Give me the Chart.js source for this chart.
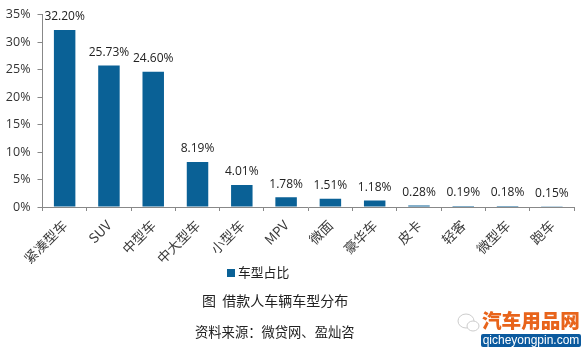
<!DOCTYPE html>
<html>
<head>
<meta charset="utf-8">
<script src="https://cdn.jsdelivr.net/npm/chart.js@4"></script>
<style>
  body { margin: 0; background: #fff; }
  #wrap { position: relative; width: 586px; height: 351px; overflow: hidden; font-family: "Noto Sans CJK SC", sans-serif; color: #222; }
  #line-chart { position: absolute; left: 0; top: 0; }
  .txt { position: absolute; white-space: nowrap; line-height: 1; }
  #legend { left: 227px; top: 266px; font-size: 12.8px; }
  #legend i { display: inline-block; width: 8px; height: 8px; margin-right: 3px; }
  #caption { left: 202px; top: 293px; font-size: 14px; }
  #source { left: 195px; top: 325px; font-size: 13.3px; }
  #brand { left: 482px; top: 310px; font-size: 19.6px; font-weight: 900; color: #e8641b; }
  #site { left: 481px; top: 334px; width: 100px; height: 13px; line-height: 13px; text-align: center; font-family: "Liberation Sans", sans-serif; font-size: 12px; color: #fff; background: #0b5a9e; border-radius: 2px; }
  #icon { position: absolute; left: 456px; top: 312px; }
</style>
</head>
<body>
<div id="wrap">
  <canvas id="line-chart" width="586" height="351"></canvas>
  <div class="txt" id="legend"></div>
  <div class="txt" id="caption">图&nbsp;&nbsp;借款人车辆车型分布</div>
  <div class="txt" id="source">资料来源：微贷网、盈灿咨</div>
  <svg id="icon" width="25" height="22">
    <ellipse cx="10" cy="9" rx="8" ry="7" fill="none" stroke="#ccc"/>
    <ellipse cx="17" cy="14" rx="6" ry="5" fill="#fff" stroke="#ccc"/>
  </svg>
  <div class="txt" id="brand">汽车用品网</div>
  <div class="txt" id="site">qicheyongpin.com</div>
</div>
<script>
'use strict';
const carTypes = ['紧凑型车', 'SUV', '中型车', '中大型车', '小型车', 'MPV', '微面', '豪华车', '皮卡', '轻客', '微型车', '跑车'];
const shares = [32.20, 25.73, 24.60, 8.19, 4.01, 1.78, 1.51, 1.18, 0.28, 0.19, 0.18, 0.15];
const seriesName = '车型占比';
const barColor = '#0a6196';

// value labels on top of the bars
const barLabels = {
  id: 'barLabels',
  afterDatasetsDraw(chart) {
    const ctx = chart.ctx;
    ctx.save();
    ctx.font = '12px "Open Sans"';
    ctx.fillStyle = '#222';
    ctx.textAlign = 'center';
    ctx.textBaseline = 'middle';
    chart.getDatasetMeta(0).data.forEach((bar, i) => {
      ctx.fillText(shares[i].toFixed(2) + '%', bar.x, bar.y - 13);
    });
    ctx.restore();
  }
};

new Chart(document.getElementById('line-chart'), {
  type: 'bar',
  data: {
    labels: carTypes,
    datasets: [{
      label: seriesName,
      data: shares,
      backgroundColor: barColor,
      categoryPercentage: 1,
      barPercentage: 0.485
    }]
  },
  options: {
    responsive: false,
    animation: false,
    layout: { padding: { top: 14, right: 12, bottom: 0, left: 0 } },
    plugins: {
      legend: { display: false },
      tooltip: { enabled: false }
    },
    scales: {
      x: {
        afterFit(scale) { scale.height = 144; },
        border: { color: '#888' },
        grid: { drawOnChartArea: false, color: '#888', tickLength: 4 },
        ticks: {
          maxRotation: 45,
          minRotation: 45,
          autoSkip: false,
          padding: 6,
          color: '#3a3a3a',
          font: { family: '"Noto Sans CJK SC"', size: 13.5 }
        }
      },
      y: {
        min: 0,
        max: 35,
        afterFit(scale) { scale.width = 42.5; },
        border: { color: '#888' },
        grid: { drawOnChartArea: false, color: '#888', tickLength: 5 },
        ticks: {
          stepSize: 5,
          padding: 7,
          color: '#333',
          font: { family: '"Open Sans"', size: 12.5 },
          callback: v => v + '%'
        }
      }
    }
  },
  plugins: [barLabels]
});

document.getElementById('legend').innerHTML = '<i style="background:' + barColor + '"></i>' + seriesName;
</script>
</body>
</html>
